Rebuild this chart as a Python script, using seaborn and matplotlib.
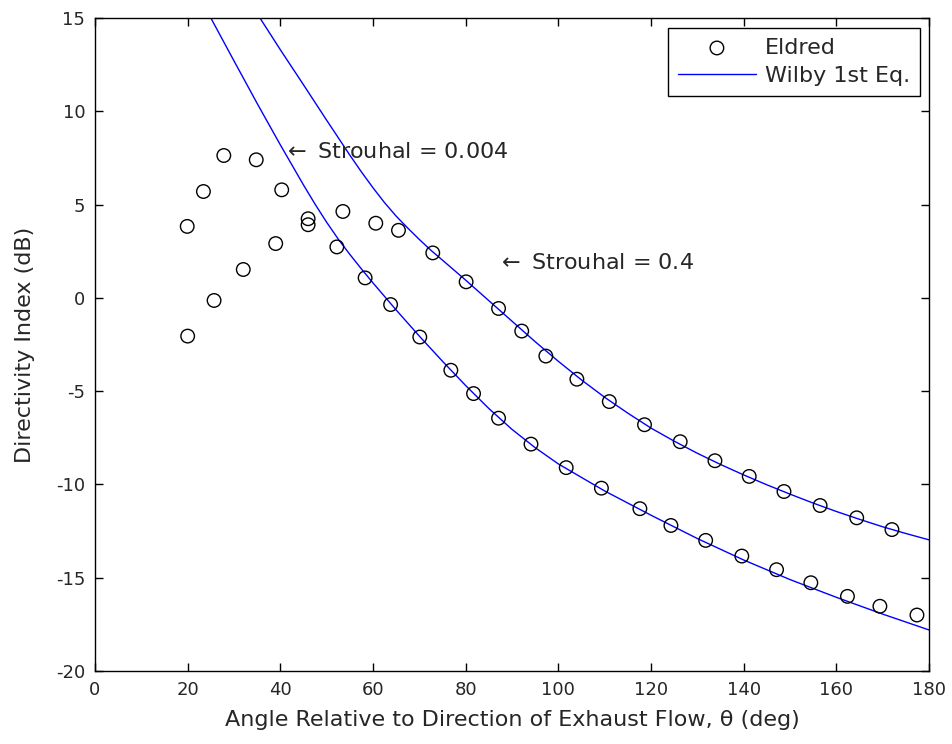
import matplotlib
matplotlib.use('Agg')
import matplotlib.pyplot as plt
import seaborn as sns

# Eldred measurements, Strouhal = 0.004
eldred_lo_x = [19.9, 23.4, 27.8, 34.8, 40.3, 46.0, 52.2, 58.3, 63.8, 70.1, 76.8, 81.7, 87.1,
               94.1, 101.7, 109.3, 117.6, 124.3, 131.8, 139.6, 147.1, 154.5, 162.4, 169.4, 177.4]
eldred_lo_y = [3.83, 5.70, 7.63, 7.40, 5.79, 4.24, 2.73, 1.07, -0.36, -2.10, -3.88, -5.13, -6.45,
               -7.84, -9.10, -10.20, -11.30, -12.20, -13.00, -13.84, -14.57, -15.27, -16.00, -16.53, -17.00]

# Eldred measurements, Strouhal = 0.4
eldred_hi_x = [20.0, 25.7, 32.0, 39.0, 46.0, 53.5, 60.6, 65.5, 72.9, 80.1, 87.1, 92.1, 97.3,
               104.0, 111.0, 118.6, 126.3, 133.8, 141.2, 148.7, 156.5, 164.4, 172.0]
eldred_hi_y = [-2.05, -0.14, 1.52, 2.91, 3.92, 4.63, 4.00, 3.62, 2.41, 0.86, -0.57, -1.78, -3.12,
               -4.36, -5.56, -6.80, -7.71, -8.73, -9.57, -10.38, -11.13, -11.79, -12.42]

# Wilby 1st Eq., Strouhal = 0.004
wilby_lo_x = [25, 30, 35, 40, 45, 47.5, 50, 52.5, 55, 57.5, 60, 65, 70, 75, 80, 85, 90, 95, 100,
              110, 120, 130, 140, 150, 160, 170, 180]
wilby_lo_y = [15.0, 12.7, 10.42, 8.2, 6.05, 5.02, 4.05, 3.15, 2.33, 1.55, 0.8, -0.65, -2.05, -3.4,
              -4.7, -5.93, -7.05, -8.03, -8.9, -10.35, -11.65, -12.9, -14.05, -15.1, -16.05, -16.95, -17.8]

# Wilby 1st Eq., Strouhal = 0.4
wilby_hi_x = [35.6, 40, 45, 50, 55, 57.5, 60, 62.5, 65, 67.5, 70, 72.5, 75, 80, 85, 90, 95, 100,
              105, 110, 115, 120, 125, 130, 135, 140, 145, 150, 155, 160, 165, 170, 175, 180]
wilby_hi_y = [15.0, 13.3, 11.42, 9.52, 7.65, 6.75, 5.9, 5.1, 4.38, 3.74, 3.13, 2.55, 2.02, 0.95,
              -0.15, -1.25, -2.35, -3.4, -4.4, -5.33, -6.18, -6.98, -7.68, -8.33, -8.93, -9.49,
              -10.02, -10.52, -11.0, -11.45, -11.87, -12.27, -12.63, -12.97]

x_ticks = list(range(0, 181, 20))
y_ticks = list(range(-20, 16, 5))

sns.set_style('ticks')
plt.rcParams['font.family'] = ['DejaVu Sans']
plt.rcParams['axes.unicode_minus'] = False

fig = plt.figure(figsize=(9.53, 7.44), dpi=100)
ax = fig.add_axes([95 / 953, 1 - 671 / 744, 834 / 953, 653 / 744])

sns.scatterplot(x=eldred_lo_x, y=eldred_lo_y, ax=ax, marker='o', s=95,
                facecolor='none', edgecolor='black', linewidth=1.0, label='Eldred', zorder=3)
sns.scatterplot(x=eldred_hi_x, y=eldred_hi_y, ax=ax, marker='o', s=95,
                facecolor='none', edgecolor='black', linewidth=1.0, zorder=3)
sns.lineplot(x=wilby_lo_x, y=wilby_lo_y, ax=ax, color='blue', linewidth=1.0,
             sort=False, estimator=None, label='Wilby 1st Eq.')
sns.lineplot(x=wilby_hi_x, y=wilby_hi_y, ax=ax, color='blue', linewidth=1.0,
             sort=False, estimator=None)

ax.set_xlim(0, 180)
ax.set_ylim(-20, 15)
ax.set_xticks(x_ticks)
ax.set_yticks(y_ticks)
ax.tick_params(direction='in', length=6, width=1, top=True, right=True,
               labelsize=13, pad=7, color='black')
for sp in ax.spines.values():
    sp.set_visible(True)
    sp.set_linewidth(1.0)
    sp.set_color('black')

ax.set_xlabel('Angle Relative to Direction of Exhaust Flow, \u03b8 (deg)', fontsize=16, labelpad=8)
ax.set_ylabel('Directivity Index (dB)', fontsize=16, labelpad=15)

ax.text(40.6, 7.8, r'$\leftarrow$ Strouhal = 0.004', fontsize=16, va='center', ha='left')
ax.text(86.8, 1.85, r'$\leftarrow$ Strouhal = 0.4', fontsize=16, va='center', ha='left')

handles, labels = ax.get_legend_handles_labels()
leg = ax.legend(handles, labels, loc='upper right', bbox_to_anchor=(0.989, 0.985),
                borderaxespad=0, fancybox=False, shadow=False, framealpha=1,
                edgecolor='black', fontsize=16, handlelength=3.5, handletextpad=0.4,
                borderpad=0.45, labelspacing=0.35)
leg.get_frame().set_linewidth(1.0)

fig.savefig('out.png', dpi=100)
